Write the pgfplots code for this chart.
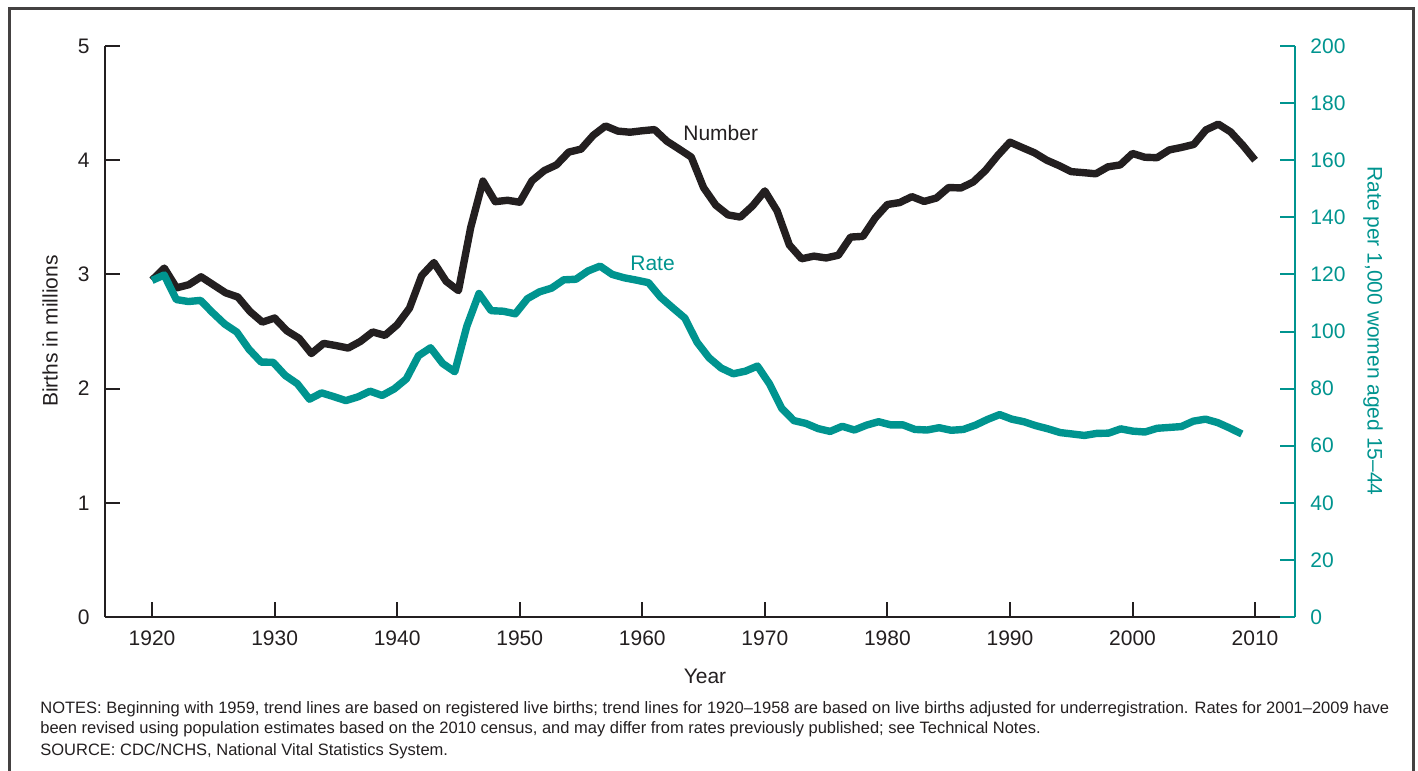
\documentclass[border=0pt]{standalone}
\usepackage{pgfplots}
\pgfplotsset{compat=1.18}
\usepackage{pgfplotstable}
\usepackage{fontspec}
\setmainfont{Liberation Sans}
\definecolor{ink}{HTML}{231F20}
\definecolor{tealc}{RGB}{0,148,143}

\pgfplotstableread{
year num
1920 2.950
1921 3.055
1922 2.882
1923 2.910
1924 2.979
1925 2.909
1926 2.839
1927 2.802
1928 2.674
1929 2.582
1930 2.618
1931 2.506
1932 2.440
1933 2.307
1934 2.396
1935 2.377
1936 2.355
1937 2.413
1938 2.496
1939 2.466
1940 2.559
1941 2.703
1942 2.989
1943 3.104
1944 2.939
1945 2.858
1946 3.411
1947 3.817
1948 3.637
1949 3.649
1950 3.632
1951 3.820
1952 3.909
1953 3.959
1954 4.071
1955 4.097
1956 4.218
1957 4.300
1958 4.255
1959 4.245
1960 4.258
1961 4.268
1962 4.167
1963 4.098
1964 4.027
1965 3.760
1966 3.606
1967 3.521
1968 3.502
1969 3.600
1970 3.731
1971 3.556
1972 3.258
1973 3.137
1974 3.160
1975 3.144
1976 3.168
1977 3.327
1978 3.333
1979 3.494
1980 3.612
1981 3.629
1982 3.681
1983 3.639
1984 3.669
1985 3.761
1986 3.757
1987 3.809
1988 3.910
1989 4.041
1990 4.158
1991 4.111
1992 4.065
1993 4.000
1994 3.953
1995 3.900
1996 3.891
1997 3.881
1998 3.942
1999 3.959
2000 4.059
2001 4.026
2002 4.022
2003 4.090
2004 4.112
2005 4.138
2006 4.266
2007 4.316
2008 4.248
2009 4.131
2010 4.000
}\numtab

\pgfplotstableread{
year rate
1920 117.9
1921 119.8
1922 111.2
1923 110.5
1924 110.9
1925 106.6
1926 102.6
1927 99.8
1928 93.8
1929 89.3
1930 89.2
1931 84.6
1932 81.7
1933 76.3
1934 78.5
1935 77.2
1936 75.8
1937 77.1
1938 79.1
1939 77.6
1940 79.9
1941 83.4
1942 91.5
1943 94.3
1944 88.8
1945 85.9
1946 101.9
1947 113.3
1948 107.3
1949 107.1
1950 106.2
1951 111.5
1952 113.9
1953 115.2
1954 118.1
1955 118.3
1956 121.2
1957 122.9
1958 120.0
1959 118.8
1960 118.0
1961 117.1
1962 112.0
1963 108.3
1964 104.7
1965 96.3
1966 90.8
1967 87.2
1968 85.2
1969 86.1
1970 87.9
1971 81.6
1972 73.1
1973 68.8
1974 67.8
1975 66.0
1976 65.0
1977 66.8
1978 65.5
1979 67.2
1980 68.4
1981 67.3
1982 67.3
1983 65.7
1984 65.5
1985 66.3
1986 65.4
1987 65.7
1988 67.2
1989 69.2
1990 70.9
1991 69.3
1992 68.4
1993 67.0
1994 65.9
1995 64.6
1996 64.1
1997 63.6
1998 64.3
1999 64.4
2000 65.9
2001 65.1
2002 64.8
2003 66.1
2004 66.4
2005 66.7
2006 68.6
2007 69.3
2008 68.1
2009 66.2
2010 64.1
}\ratetab

\begin{document}
\begin{tikzpicture}
\useasboundingbox (0,0) rectangle (709bp,-385.5bp);
\draw[line width=1.5bp, draw=ink!85] (4.5bp,-386bp) -- (4.5bp,-4bp) -- (706.5bp,-4bp) -- (706.5bp,-386bp);

\pgfplotsset{
  common/.style={
    at={(52.5bp,-308.5bp)}, anchor=south west,
    scale only axis, width=595bp, height=285.5bp,
    xmin=1916.16, xmax=2013.26,
    tick align=inside, major tick length=7.5bp,
    /pgf/number format/assume math mode=true,
    /pgf/number format/1000 sep={},
    tick label style={font=\fontsize{10.5bp}{12bp}\selectfont},
  }
}

\begin{axis}[common,
  ymin=0, ymax=5,
  axis x line*=bottom, axis y line*=left,
  axis line style={line width=1bp, draw=ink},
  every tick/.style={line width=1bp, draw=ink},
  xtick={1920,1930,...,2010}, ytick={0,1,2,3,4,5},
  tick label style={text=ink},
  yticklabel style={inner sep=0pt, anchor=east, xshift=-7.5bp},
  xticklabel style={inner sep=0pt, anchor=north, yshift=-6.5bp},
]
\addplot[draw=ink, line width=3.7bp, line join=round] table[x=year, y=num]{\numtab};
\end{axis}

\begin{axis}[common,
  ymin=0, ymax=200,
  hide x axis,
  axis y line*=right,
  axis line style={line width=1bp, draw=tealc},
  every tick/.style={line width=1bp, draw=tealc},
  ytick={0,20,...,200},
  tick label style={text=tealc},
  yticklabel style={inner sep=0pt, anchor=west, xshift=7.5bp},
]
\addplot[draw=tealc, line width=3.7bp, line join=round] table[x expr={1920+(\thisrow{year}-1920)*0.988}, y=rate]{\ratetab};
\end{axis}

\begin{scope}[x=0.5bp, y=-0.5bp, font=\fontsize{10.5bp}{12bp}\selectfont]
\node[text=ink, anchor=west, inner sep=0pt] at (683,133) {Number};
\node[text=tealc, anchor=west, inner sep=0pt] at (630,263) {Rate};
\node[text=ink, inner sep=0pt] at (705,676) {Year};
\node[text=ink, rotate=90, inner sep=0pt] at (50,331) {Births in millions};
\node[text=tealc, rotate=-90, inner sep=0pt] at (1373,331) {Rate per 1,000 women aged 15--44};
\begin{scope}[font=\fontsize{8.25bp}{9.5bp}\selectfont]
\node[text=ink, anchor=west, inner sep=0pt] at (40,709) {NOTES: Beginning with 1959, trend lines are based on registered live births; trend lines for 1920--1958 are based on live births adjusted for underregistration. Rates for 2001--2009 have};
\node[text=ink, anchor=west, inner sep=0pt] at (40,729) {been revised using population estimates based on the 2010 census, and may differ from rates previously published; see Technical Notes.};
\node[text=ink, anchor=west, inner sep=0pt] at (40,751) {SOURCE: CDC/NCHS, National Vital Statistics System.};
\end{scope}
\end{scope}
\end{tikzpicture}
\end{document}
